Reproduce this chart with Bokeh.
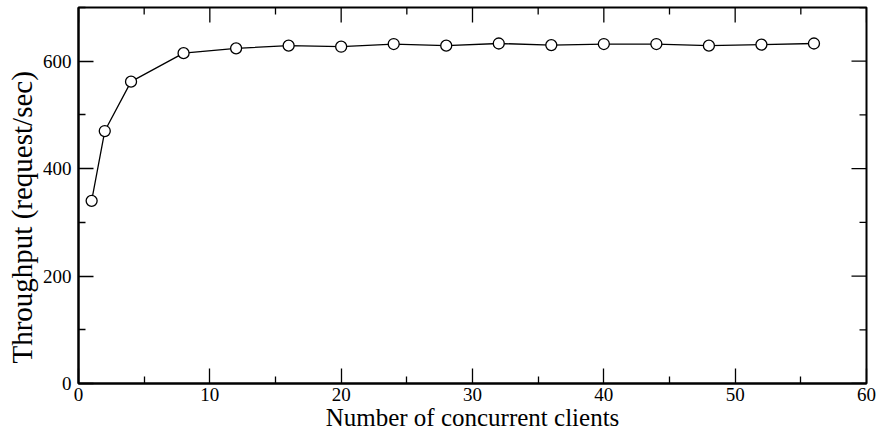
import math
from bokeh.plotting import figure
from bokeh.models import LinearAxis, Range1d, FixedTicker, Title
from bokeh.embed import file_html
from bokeh.resources import INLINE

clients = [1, 2, 4, 8, 12, 16, 20, 24, 28, 32, 36, 40, 44, 48, 52, 56]
throughput = [340, 470, 562, 615, 624, 629, 627, 632, 629, 633, 630, 632, 632, 629, 631, 633]

x_major = [0, 10, 20, 30, 40, 50, 60]
x_minor = [5, 15, 25, 35, 45, 55]
y_major = [0, 200, 400, 600]
y_minor = [100, 300, 500, 700]

x_label = "Number of concurrent clients"
y_label = "Throughput (request/sec)"

X0, X1 = 0, 60
Y0, Y1 = 0, 700

FONT = "Liberation Serif"

p = figure(width=876, height=433, output_backend="svg", toolbar_location=None,
           x_range=Range1d(X0, X1), y_range=Range1d(Y0, Y1),
           x_axis_location=None, y_axis_location=None,
           min_border_left=78, min_border_right=10, min_border_top=7, min_border_bottom=50)
p.grid.visible = False
p.outline_line_color = "black"
p.outline_line_width = 2
p.background_fill_color = "white"


def style(ax):
    ax.axis_line_color = "black"
    ax.axis_line_width = 2
    ax.major_tick_in = 15
    ax.major_tick_out = 0
    ax.minor_tick_in = 7
    ax.minor_tick_out = 0
    ax.major_tick_line_width = 1.3
    ax.minor_tick_line_width = 1.3
    ax.major_tick_line_color = "black"
    ax.minor_tick_line_color = "black"
    ax.major_label_text_font = FONT
    ax.major_label_text_font_size = "19px"
    ax.major_label_text_font_style = "normal"
    ax.major_label_text_color = "black"
    ax.axis_label_text_font = FONT
    ax.axis_label_text_font_size = "25px"
    ax.axis_label_text_font_style = "normal"
    ax.axis_label_text_color = "black"


xb = LinearAxis(ticker=FixedTicker(ticks=x_major, minor_ticks=x_minor), axis_label=x_label)
style(xb)
xb.major_label_standoff = 4
xb.axis_label_standoff = 0
p.add_layout(xb, "below")

yl = LinearAxis(ticker=FixedTicker(ticks=y_major, minor_ticks=y_minor))
style(yl)
yl.major_label_standoff = 7
p.add_layout(yl, "left")

# y-axis title, starting a little above the frame bottom as in the reference
p.add_layout(Title(text=y_label, align="left", offset=20, standoff=4,
                   text_font=FONT, text_font_size="29px", text_font_style="normal",
                   text_color="black"), "left")

# mirrored inward ticks on the top and right edges
tick_kw = dict(line_color="black", line_width=1.3, length_units="screen")
p.ray(x=x_major, y=[Y1] * len(x_major), length=15, angle=-math.pi / 2, **tick_kw)
p.ray(x=x_minor, y=[Y1] * len(x_minor), length=7, angle=-math.pi / 2, **tick_kw)
p.ray(x=[X1] * len(y_major), y=y_major, length=15, angle=math.pi, **tick_kw)
p.ray(x=[X1] * len(y_minor), y=y_minor, length=7, angle=math.pi, **tick_kw)

p.line(clients, throughput, line_color="black", line_width=1.3)
p.scatter(clients, throughput, marker="circle", size=11, fill_color="white",
          line_color="black", line_width=1.3)

open("out.html", "w").write(file_html(p, INLINE))
